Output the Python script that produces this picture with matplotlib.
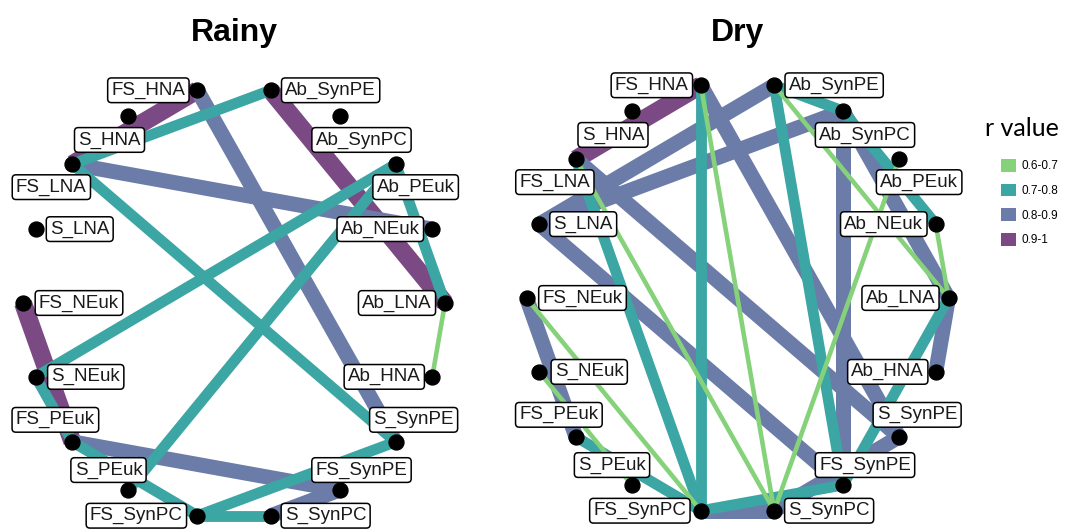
import numpy as np
import matplotlib
matplotlib.use("Agg")
import matplotlib.pyplot as plt
from matplotlib.patches import Patch

plt.rcParams['font.family'] = ['Liberation Sans', 'DejaVu Sans']

# nodes round the circle, clockwise from the top
nodes = ["Ab_SynPE", "Ab_SynPC", "Ab_PEuk", "Ab_NEuk", "Ab_LNA", "Ab_HNA",
         "S_SynPE", "FS_SynPE", "S_SynPC", "FS_SynPC", "S_PEuk", "FS_PEuk",
         "S_NEuk", "FS_NEuk", "S_LNA", "FS_LNA", "S_HNA", "FS_HNA"]

r_classes = ["0.6-0.7", "0.7-0.8", "0.8-0.9", "0.9-1"]

# rainy season correlations
rainy_from = ["FS_HNA", "Ab_SynPE", "FS_HNA", "Ab_SynPE", "FS_LNA", "FS_LNA",
              "Ab_PEuk", "Ab_PEuk", "Ab_PEuk", "Ab_LNA", "FS_NEuk", "S_NEuk",
              "FS_PEuk", "FS_PEuk", "FS_SynPC", "FS_SynPC", "S_SynPC"]
rainy_to = ["FS_LNA", "FS_LNA", "S_SynPE", "Ab_LNA", "Ab_NEuk", "S_SynPE",
            "S_NEuk", "S_PEuk", "Ab_LNA", "Ab_HNA", "FS_PEuk", "FS_PEuk",
            "FS_SynPC", "FS_SynPE", "S_SynPC", "S_SynPE", "FS_SynPE"]
rainy_r = ["0.9-1", "0.7-0.8", "0.8-0.9", "0.9-1", "0.8-0.9", "0.7-0.8",
           "0.7-0.8", "0.7-0.8", "0.7-0.8", "0.6-0.7", "0.9-1", "0.7-0.8",
           "0.7-0.8", "0.8-0.9", "0.7-0.8", "0.7-0.8", "0.8-0.9"]

# dry season correlations
dry_from = ["FS_HNA", "FS_HNA", "FS_HNA", "FS_HNA", "Ab_SynPE", "Ab_SynPC",
            "Ab_SynPE", "Ab_SynPE", "Ab_SynPE", "Ab_SynPC", "Ab_SynPC", "Ab_SynPC",
            "Ab_PEuk", "Ab_NEuk", "Ab_LNA", "Ab_LNA", "S_SynPE", "FS_SynPC",
            "FS_LNA", "FS_LNA", "FS_LNA", "S_LNA", "FS_NEuk", "FS_NEuk",
            "S_NEuk", "FS_PEuk", "FS_SynPC"]
dry_to = ["FS_LNA", "S_SynPE", "FS_SynPC", "S_SynPC", "S_LNA", "S_LNA",
          "Ab_SynPC", "FS_SynPE", "Ab_LNA", "Ab_NEuk", "FS_SynPE", "Ab_LNA",
          "S_SynPC", "Ab_LNA", "Ab_HNA", "FS_SynPE", "S_SynPC", "S_SynPC",
          "S_SynPE", "FS_SynPC", "S_SynPC", "FS_SynPE", "FS_PEuk", "FS_SynPC",
          "S_PEuk", "FS_SynPC", "FS_SynPE"]
dry_r = ["0.9-1", "0.8-0.9", "0.7-0.8", "0.6-0.7", "0.8-0.9", "0.8-0.9",
         "0.7-0.8", "0.7-0.8", "0.6-0.7", "0.7-0.8", "0.8-0.9", "0.8-0.9",
         "0.6-0.7", "0.6-0.7", "0.8-0.9", "0.7-0.8", "0.8-0.9", "0.8-0.9",
         "0.8-0.9", "0.7-0.8", "0.6-0.7", "0.8-0.9", "0.8-0.9", "0.6-0.7",
         "0.6-0.7", "0.7-0.8", "0.7-0.8"]

# styles
colors = {"0.6-0.7": "#86d27b", "0.7-0.8": "#3ca6a4",
          "0.8-0.9": "#6b7ca9", "0.9-1": "#7b4a84"}
widths = {"0.6-0.7": 3.3, "0.7-0.8": 7.8, "0.8-0.9": 10.8, "0.9-1": 13.0}
zord = {"0.6-0.7": 1.4, "0.7-0.8": 1.3, "0.8-0.9": 1.2, "0.9-1": 1.1}

# label offset from its node, pixels (x right, y down)
label_off = {"Ab_SynPE": (60, 0), "Ab_SynPC": (22, 24), "Ab_PEuk": (20, 23),
             "Ab_NEuk": (-52, 0), "Ab_LNA": (-48, 0), "Ab_HNA": (-48, 0),
             "S_SynPE": (18, -22), "FS_SynPE": (22, -20), "S_SynPC": (55, 0),
             "FS_SynPC": (-61, 0), "S_PEuk": (-20, -20), "FS_PEuk": (-17, -22),
             "S_NEuk": (50, 0), "FS_NEuk": (56, 0), "S_LNA": (44, 0),
             "FS_LNA": (-21, 23), "S_HNA": (-19, 24), "FS_HNA": (-49, 0)}

W, H = 1082, 530
fig = plt.figure(figsize=(W / 100, H / 100), dpi=100)

ang = np.deg2rad(10 + 20 * np.arange(len(nodes)))
pos = {n: (np.sin(a), np.cos(a)) for n, a in zip(nodes, ang)}


def draw_net(cx, cy, src, dst, rv, title):
    rx, ry = 211, 216
    ax = fig.add_axes([(cx - rx) / W, (H - cy - ry) / H, 2 * rx / W, 2 * ry / H])
    ax.set_xlim(-1, 1)
    ax.set_ylim(-1, 1)
    ax.axis("off")
    for a, b, r in zip(src, dst, rv):
        x1, y1 = pos[a]
        x2, y2 = pos[b]
        ax.plot([x1, x2], [y1, y2], color=colors[r], lw=widths[r],
                solid_capstyle="butt", zorder=zord[r], clip_on=False)
    for n in nodes:
        x, y = pos[n]
        dx, dy = label_off[n]
        ax.annotate(n, (x, y), xytext=(dx * 0.72, -dy * 0.72),
                    textcoords="offset points", ha="center", va="center",
                    fontsize=13.5, color="#1a1a1a", zorder=5,
                    bbox=dict(boxstyle="round,pad=0.2,rounding_size=0.2",
                              fc="white", ec="black", lw=1.1))
    xs = [pos[n][0] for n in nodes]
    ys = [pos[n][1] for n in nodes]
    ax.scatter(xs, ys, s=115, c="black", zorder=6, clip_on=False)
    fig.text(cx / W, 1 - 33 / H, title, ha="center", va="center",
             fontsize=23, fontweight="bold")


draw_net(234, 303, rainy_from, rainy_to, rainy_r, "Rainy")
draw_net(737.5, 298, dry_from, dry_to, dry_r, "Dry")

handles = [Patch(facecolor=colors[c], edgecolor="none") for c in r_classes]
fig.legend(handles, r_classes, loc="upper left",
           bbox_to_anchor=(1001 / W, 1 - 159 / H), frameon=False,
           fontsize=8.5, handlelength=1.3, handleheight=1.3,
           handletextpad=0.4, labelspacing=0.95, borderpad=0, borderaxespad=0)
fig.text(985 / W, 1 - 128 / H, "r value", fontsize=18, ha="left", va="center",
         family=["Lato", "DejaVu Sans"])

fig.savefig("out.png", dpi=100)
